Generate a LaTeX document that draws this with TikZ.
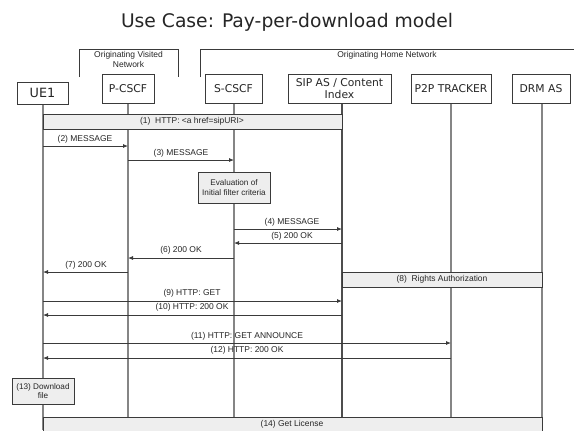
\documentclass[tikz,border=0pt]{standalone}
\usepackage{fontspec}
\setmainfont{Liberation Sans}
\newfontfamily\vfont{DejaVu Sans}
\usetikzlibrary{arrows.meta}
\definecolor{lifec}{HTML}{858585}
\definecolor{darkc}{HTML}{3A3A3A}
\definecolor{barfill}{HTML}{EEEEEE}
\tikzset{
  actor/.style={draw=darkc, line width=0.8bp, fill=white, inner sep=0pt, align=center, font=\vfont\fontsize{10.8}{12}\selectfont, text=black!85},
  life/.style={draw=lifec, line width=1.1bp},
  msg/.style={draw=darkc, line width=0.8bp, -{Latex[length=5bp,width=4bp]}},
  lbl/.style={font=\fontsize{8.5}{9.5}\selectfont, inner sep=0pt, text=black!85},
  bar/.style={draw=darkc, line width=0.8bp, fill=barfill},
  note/.style={draw=darkc, line width=0.8bp, fill=barfill, align=center, inner sep=1pt, font=\fontsize{8.2}{9.5}\selectfont, text=black!85},
  brack/.style={draw=darkc, line width=0.8bp},
}
\begin{document}
\begin{tikzpicture}[x=1bp,y=-1bp]
\useasboundingbox (0,0) rectangle (574,430);
\fill[white] (0,0) rectangle (574,430);

\node[font=\vfont\fontsize{18.8}{22}\selectfont, text=black!85] (title) at (287,22) {Use Case: Pay-per-download model};

% network brackets
\draw[brack] (79,77) -- (79,49) -- (178,49) -- (178,77);
\node[lbl, align=center] (ovn) at (128.5,59.5) {Originating Visited\\Network};
\draw[brack] (200,77) -- (200,49) -- (574,49);
\node[lbl] (ohn) at (387,55) {Originating Home Network};

% lifelines (drawn first)
\coordinate (l1) at (43,104);  \coordinate (l1b) at (43,430);
\coordinate (l2) at (128,103); \coordinate (l2b) at (128,417);
\coordinate (l3) at (234,103); \coordinate (l3b) at (234,417);
\coordinate (l4) at (342,103); \coordinate (l4b) at (342,417);
\coordinate (l5) at (451,103); \coordinate (l5b) at (451,417);
\coordinate (l6) at (542,103); \coordinate (l6b) at (542,430);
\draw[life] (l1) -- (l1b);
\draw[life] (l2) -- (l2b);
\draw[life] (l3) -- (l3b);
\draw[life, draw=darkc!90] (l4) -- (l4b);
\draw[life] (l5) -- (l5b);
\draw[life] (l6) -- (l6b);

% actors
\node[actor, minimum width=51bp, minimum height=22bp, font=\vfont\fontsize{12.8}{14}\selectfont] (ue1) at (42.5,93) {UE1};
\node[actor, minimum width=52bp, minimum height=29bp] (pcscf) at (128,88.5) {P-CSCF};
\node[actor, minimum width=57bp, minimum height=29bp] (scscf) at (233.5,88.5) {S-CSCF};
\node[actor, minimum width=103bp, minimum height=29bp] (sipas) at (339.5,88.5) {SIP AS / Content\\Index};
\node[actor, minimum width=80bp, minimum height=29bp] (p2p) at (451,88.5) {P2P TRACKER};
\node[actor, minimum width=58bp, minimum height=29bp] (drm) at (541,88.5) {DRM AS};

% (1) bar
\draw[bar] (l1 |- 0,114) rectangle (l4 |- 0,129);
\node[lbl] (t1) at (192,121.5) {(1)\ \ HTTP: <a href=sipURI>};

% (2), (3)
\draw[msg] (l1 |- 0,146) -- (l2 |- 0,146);
\node[lbl] (t2) at (85,139) {(2) MESSAGE};
\draw[msg] (l2 |- 0,160) -- (l3 |- 0,160);
\node[lbl] (t3) at (181,153) {(3) MESSAGE};

% evaluation note
\node[note, minimum width=72bp, minimum height=31bp] (eval) at (234,187.5) {Evaluation of\\Initial filter criteria};

% (4)-(7)
\draw[msg] (l3 |- 0,229) -- (l4 |- 0,229);
\node[lbl] (t4) at (292,222) {(4) MESSAGE};
\draw[msg] (l4 |- 0,243) -- (l3 |- 0,243);
\node[lbl] (t5) at (292,236) {(5) 200 OK};
\draw[msg] (l3 |- 0,258) -- (l2 |- 0,258);
\node[lbl] (t6) at (181,250) {(6) 200 OK};
\draw[msg] (l2 |- 0,272) -- (l1 |- 0,272);
\node[lbl] (t7) at (86,265) {(7) 200 OK};

% (8) bar
\draw[bar] (l4 |- 0,272) rectangle (l6 |- 0,287);
\node[lbl] (t8) at (442,279.5) {(8)\ \ Rights Authorization};

% (9)-(12)
\draw[msg] (l1 |- 0,301) -- (l4 |- 0,301);
\node[lbl] (t9) at (192,293.5) {(9) HTTP: GET};
\draw[msg] (l4 |- 0,315) -- (l1 |- 0,315);
\node[lbl] (t10) at (192,307.5) {(10) HTTP: 200 OK};
\draw[msg] (l1 |- 0,343) -- (l5 |- 0,343);
\node[lbl] (t11) at (247,336) {(11) HTTP: GET ANNOUNCE};
\draw[msg] (l5 |- 0,358) -- (l1 |- 0,358);
\node[lbl] (t12) at (247,350.5) {(12) HTTP: 200 OK};

% (13) note
\node[note, minimum width=62bp, minimum height=26bp] (dl) at (43,391) {(13) Download\\file};

% (14) bar
\draw[bar] (l1 |- 0,417) rectangle (l6 |- 0,440);
\node[lbl] (t14) at (292,424) {(14) Get License};
\end{tikzpicture}
\end{document}
